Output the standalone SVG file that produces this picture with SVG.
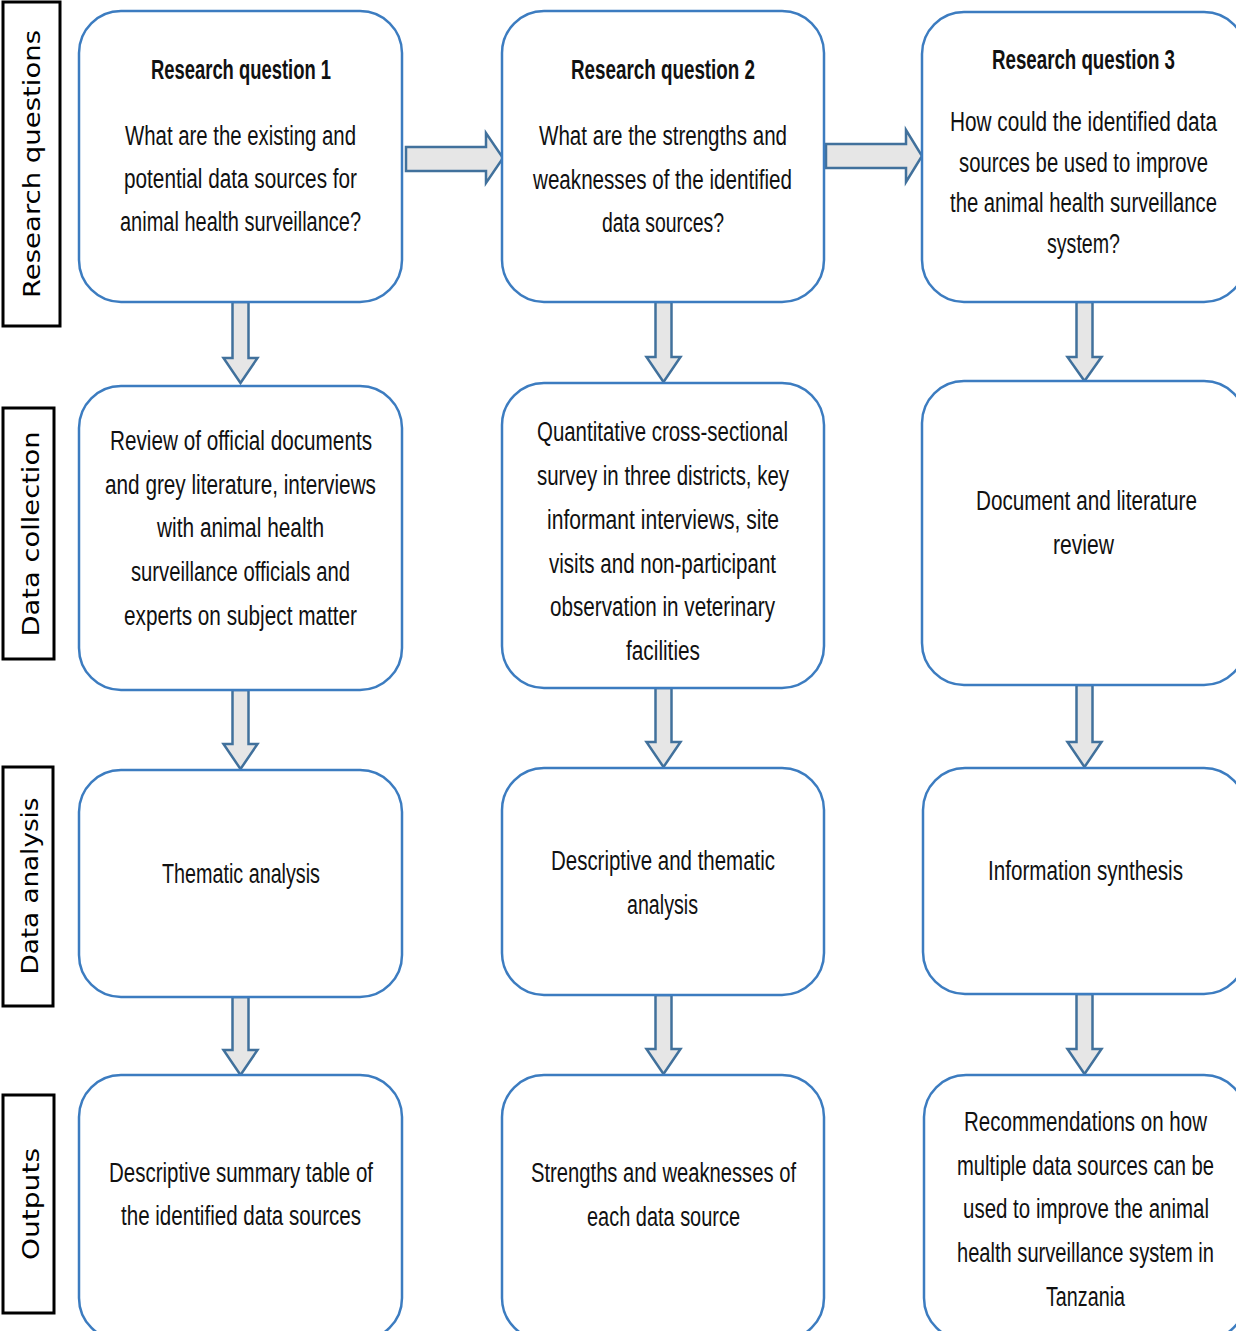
<svg xmlns="http://www.w3.org/2000/svg" width="1236" height="1331" viewBox="0 0 1236 1331">
<style>
.box{fill:#fff;stroke:#3c7cc0;stroke-width:2.5}
.lab{fill:#fff;stroke:#000;stroke-width:3}
.arr{fill:#e6e6e6;stroke:#41719c;stroke-width:2.5;stroke-linejoin:miter}
.t{font-family:"Liberation Sans",Arial,sans-serif;font-size:27px;fill:#111;text-anchor:middle}
.b{font-weight:bold}
.l{font-family:"DejaVu Sans",Verdana,sans-serif;font-size:23px;fill:#000;text-anchor:middle}
</style>
<rect width="1236" height="1331" fill="#fff"/>

<g id="label-research-questions">
<rect class="lab" x="3" y="2" width="57" height="324"/>
<text class="l" transform="translate(40,164) rotate(-90)" textLength="268" lengthAdjust="spacingAndGlyphs">Research questions</text>
</g>
<g id="label-data-collection">
<rect class="lab" x="3" y="408" width="51" height="251"/>
<text class="l" transform="translate(39,534) rotate(-90)" textLength="205" lengthAdjust="spacingAndGlyphs">Data collection</text>
</g>
<g id="label-data-analysis">
<rect class="lab" x="3" y="767" width="50" height="239"/>
<text class="l" transform="translate(38,886) rotate(-90)" textLength="177" lengthAdjust="spacingAndGlyphs">Data analysis</text>
</g>
<g id="label-outputs">
<rect class="lab" x="3" y="1095" width="51" height="218"/>
<text class="l" transform="translate(39,1204) rotate(-90)" textLength="112" lengthAdjust="spacingAndGlyphs">Outputs</text>
</g>

<g id="connectors">
<polygon class="arr" points="406,147 486,147 486,133 503,158 486,183 486,171 406,171"/>
<polygon class="arr" points="826,144 906,144 906,130 922,156 906,182 906,168 826,168"/>
<polygon class="arr" points="232.5,302 248.5,302 248.5,358 257.5,358 240.5,383 223.5,358 232.5,358"/>
<polygon class="arr" points="232.5,690 248.5,690 248.5,744 257.5,744 240.5,769 223.5,744 232.5,744"/>
<polygon class="arr" points="232.5,997 248.5,997 248.5,1050 257.5,1050 240.5,1075 223.5,1050 232.5,1050"/>
<polygon class="arr" points="655.5,302 671.5,302 671.5,357 680.5,357 663.5,382 646.5,357 655.5,357"/>
<polygon class="arr" points="655.5,688 671.5,688 671.5,742 680.5,742 663.5,767 646.5,742 655.5,742"/>
<polygon class="arr" points="655.5,995 671.5,995 671.5,1049 680.5,1049 663.5,1074 646.5,1049 655.5,1049"/>
<polygon class="arr" points="1076.5,302 1092.5,302 1092.5,357 1101.5,357 1084.5,381 1067.5,357 1076.5,357"/>
<polygon class="arr" points="1076.5,685 1092.5,685 1092.5,742 1101.5,742 1084.5,767 1067.5,742 1076.5,742"/>
<polygon class="arr" points="1076.5,994 1092.5,994 1092.5,1049 1101.5,1049 1084.5,1074 1067.5,1049 1076.5,1049"/>
</g>

<g id="rq1">
<rect class="box" x="79" y="11" width="323" height="291" rx="42"/>
<text class="t b" x="241" y="79" textLength="180" lengthAdjust="spacingAndGlyphs">Research question 1</text>
<text class="t" x="240.5" y="145" textLength="231" lengthAdjust="spacingAndGlyphs">What are the existing and</text>
<text class="t" x="240.5" y="188" textLength="233" lengthAdjust="spacingAndGlyphs">potential data sources for</text>
<text class="t" x="240.5" y="231" textLength="241" lengthAdjust="spacingAndGlyphs">animal health surveillance?</text>
</g>
<g id="rq2">
<rect class="box" x="502" y="11" width="322" height="291" rx="42"/>
<text class="t b" x="663" y="79" textLength="184" lengthAdjust="spacingAndGlyphs">Research question 2</text>
<text class="t" x="663" y="145" textLength="248" lengthAdjust="spacingAndGlyphs">What are the strengths and</text>
<text class="t" x="662.5" y="189" textLength="259" lengthAdjust="spacingAndGlyphs">weaknesses of the identified</text>
<text class="t" x="663" y="232" textLength="122" lengthAdjust="spacingAndGlyphs">data sources?</text>
</g>
<g id="rq3">
<rect class="box" x="922" y="12" width="324" height="290" rx="42"/>
<text class="t b" x="1083.5" y="69" textLength="183" lengthAdjust="spacingAndGlyphs">Research question 3</text>
<text class="t" x="1083.5" y="131" textLength="267" lengthAdjust="spacingAndGlyphs">How could the identified data</text>
<text class="t" x="1083.5" y="172" textLength="249" lengthAdjust="spacingAndGlyphs">sources be used to improve</text>
<text class="t" x="1083.5" y="212" textLength="267" lengthAdjust="spacingAndGlyphs">the animal health surveillance</text>
<text class="t" x="1083.5" y="253" textLength="73" lengthAdjust="spacingAndGlyphs">system?</text>
</g>

<g id="dc1">
<rect class="box" x="79" y="386" width="323" height="304" rx="42"/>
<text class="t" x="241" y="450" textLength="262" lengthAdjust="spacingAndGlyphs">Review of official documents</text>
<text class="t" x="240.5" y="494" textLength="271" lengthAdjust="spacingAndGlyphs">and grey literature, interviews</text>
<text class="t" x="240.5" y="537" textLength="167" lengthAdjust="spacingAndGlyphs">with animal health</text>
<text class="t" x="240.5" y="581" textLength="219" lengthAdjust="spacingAndGlyphs">surveillance officials and</text>
<text class="t" x="240.5" y="625" textLength="233" lengthAdjust="spacingAndGlyphs">experts on subject matter</text>
</g>
<g id="dc2">
<rect class="box" x="502" y="383" width="322" height="305" rx="42"/>
<text class="t" x="662.5" y="441" textLength="251" lengthAdjust="spacingAndGlyphs">Quantitative cross-sectional</text>
<text class="t" x="663" y="485" textLength="252" lengthAdjust="spacingAndGlyphs">survey in three districts, key</text>
<text class="t" x="663" y="529" textLength="232" lengthAdjust="spacingAndGlyphs">informant interviews, site</text>
<text class="t" x="662.5" y="573" textLength="227" lengthAdjust="spacingAndGlyphs">visits and non-participant</text>
<text class="t" x="662.5" y="616" textLength="225" lengthAdjust="spacingAndGlyphs">observation in veterinary</text>
<text class="t" x="663" y="660" textLength="74" lengthAdjust="spacingAndGlyphs">facilities</text>
</g>
<g id="dc3">
<rect class="box" x="922" y="381" width="324" height="304" rx="42"/>
<text class="t" x="1086.5" y="510" textLength="221" lengthAdjust="spacingAndGlyphs">Document and literature</text>
<text class="t" x="1083.5" y="554" textLength="61" lengthAdjust="spacingAndGlyphs">review</text>
</g>

<g id="da1">
<rect class="box" x="79" y="770" width="323" height="227" rx="42"/>
<text class="t" x="241" y="883" textLength="158" lengthAdjust="spacingAndGlyphs">Thematic analysis</text>
</g>
<g id="da2">
<rect class="box" x="502" y="768" width="322" height="227" rx="42"/>
<text class="t" x="663" y="870" textLength="224" lengthAdjust="spacingAndGlyphs">Descriptive and thematic</text>
<text class="t" x="662.5" y="914" textLength="71" lengthAdjust="spacingAndGlyphs">analysis</text>
</g>
<g id="da3">
<rect class="box" x="923" y="768" width="323" height="226" rx="42"/>
<text class="t" x="1085.5" y="880" textLength="195" lengthAdjust="spacingAndGlyphs">Information synthesis</text>
</g>

<g id="out1">
<rect class="box" x="79" y="1075" width="323" height="265" rx="42"/>
<text class="t" x="241" y="1182" textLength="264" lengthAdjust="spacingAndGlyphs">Descriptive summary table of</text>
<text class="t" x="241" y="1225" textLength="240" lengthAdjust="spacingAndGlyphs">the identified data sources</text>
</g>
<g id="out2">
<rect class="box" x="502" y="1075" width="322" height="265" rx="42"/>
<text class="t" x="663.5" y="1182" textLength="265" lengthAdjust="spacingAndGlyphs">Strengths and weaknesses of</text>
<text class="t" x="663.5" y="1226" textLength="153" lengthAdjust="spacingAndGlyphs">each data source</text>
</g>
<g id="out3">
<rect class="box" x="924" y="1075" width="322" height="265" rx="42"/>
<text class="t" x="1085.5" y="1131" textLength="243" lengthAdjust="spacingAndGlyphs">Recommendations on how</text>
<text class="t" x="1085.5" y="1175" textLength="257" lengthAdjust="spacingAndGlyphs">multiple data sources can be</text>
<text class="t" x="1086" y="1218" textLength="246" lengthAdjust="spacingAndGlyphs">used to improve the animal</text>
<text class="t" x="1085.5" y="1262" textLength="257" lengthAdjust="spacingAndGlyphs">health surveillance system in</text>
<text class="t" x="1085.5" y="1306" textLength="79" lengthAdjust="spacingAndGlyphs">Tanzania</text>
</g>
</svg>
